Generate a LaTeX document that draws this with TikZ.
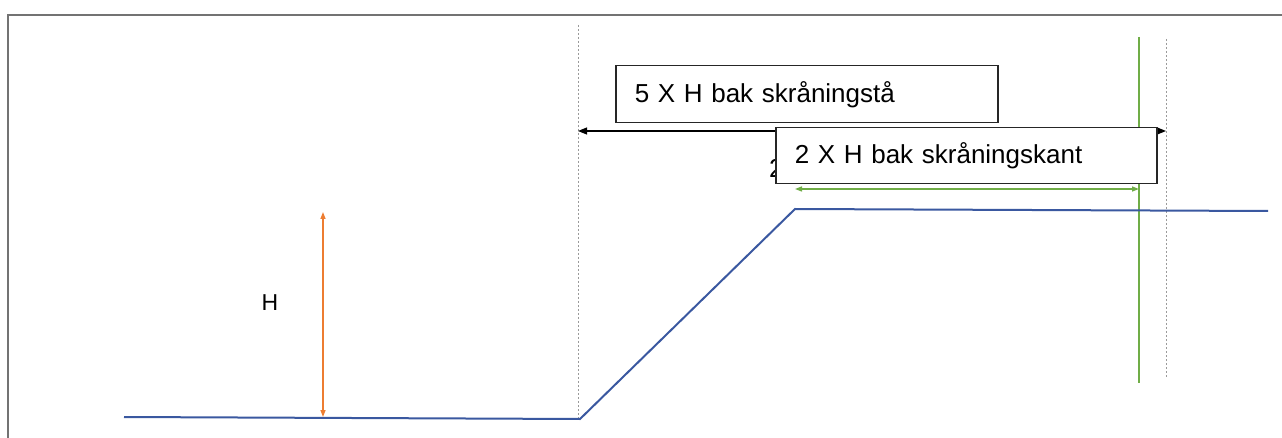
\documentclass[tikz,border=0pt]{standalone}
\usepackage{fontspec}
\setmainfont{Liberation Sans}
\usetikzlibrary{arrows.meta}
\definecolor{frameg}{HTML}{737373}
\definecolor{groundb}{HTML}{3A58A0}
\definecolor{greenl}{HTML}{70AD47}
\definecolor{orangel}{HTML}{ED7D31}
\definecolor{dotg}{HTML}{9A9A9A}
\tikzset{
  labelbox/.style={draw=black!85, line width=1.5pt, fill=white, anchor=north west,
    inner xsep=19pt, inner ysep=0pt, align=left, font=\fontsize{26}{30}\selectfont},
  ground/.style={draw=groundb, line width=2pt},
  guide/.style={draw=dotg, line width=1pt, dash pattern=on 2pt off 2pt},
  dimarrow/.style={line width=1.1pt, {Triangle[length=9pt,width=7pt]}-{Triangle[length=9pt,width=7pt]}},
  smallarrow/.style={line width=1.3pt, {Triangle[length=7pt,width=5pt]}-{Triangle[length=7pt,width=5pt]}}
}
\begin{document}
\begin{tikzpicture}[x=1pt,y=-1pt]
\useasboundingbox (0,0) rectangle (1282,438);
% frame
\draw[frameg, line width=2pt] (7.5,438) -- (7.5,15.5) -- (1282,15.5);
% guide lines
\coordinate (gl1) at (578,25);
\coordinate (gl2) at (578,419);
\coordinate (gr1) at (1166,39);
\coordinate (gr2) at (1166,378);
\coordinate (gg1) at (1139,37);
\coordinate (gg2) at (1139,383);
\draw[guide] (gl1) -- (gl2);
\draw[guide] (gr1) -- (gr2);
\draw[greenl, line width=1.3pt] (gg1) -- (gg2);
% ground profile
\coordinate (p0) at (124,417);
\coordinate (p1) at (580,419);
\coordinate (p2) at (795,209);
\coordinate (p3) at (1268,211);
\draw[ground, line join=miter] (p0) -- (p1) -- (p2) -- (p3);
% height arrow
\coordinate (h1) at (323,212);
\coordinate (h2) at (323,417);
\draw[smallarrow, orangel] (h1) -- (h2);
\node[font=\fontsize{23}{27}\selectfont] (hlab) at (270,303) {H};
% 5 x H arrow
\coordinate (a1) at (578,131);
\coordinate (a2) at (1166,131);
\draw[dimarrow, black] (a1) -- (a2);
% 2 x H arrow
\coordinate (b1) at (795,189);
\coordinate (b2) at (1139,189);
\draw[smallarrow, greenl] (b1) -- (b2);
% hidden text peeking
\node[anchor=base west, inner sep=0pt, font=\fontsize{26}{30}\selectfont] (peek) at (769,178) {2};
% boxes
\node[labelbox, text width=344pt, minimum height=57pt] (box1) at (615,65) {5 X H bak skråningstå};
\node[labelbox, text width=343pt, minimum height=56pt] (box2) at (775,127) {2 X H bak skråningskant};
\end{tikzpicture}
\end{document}
